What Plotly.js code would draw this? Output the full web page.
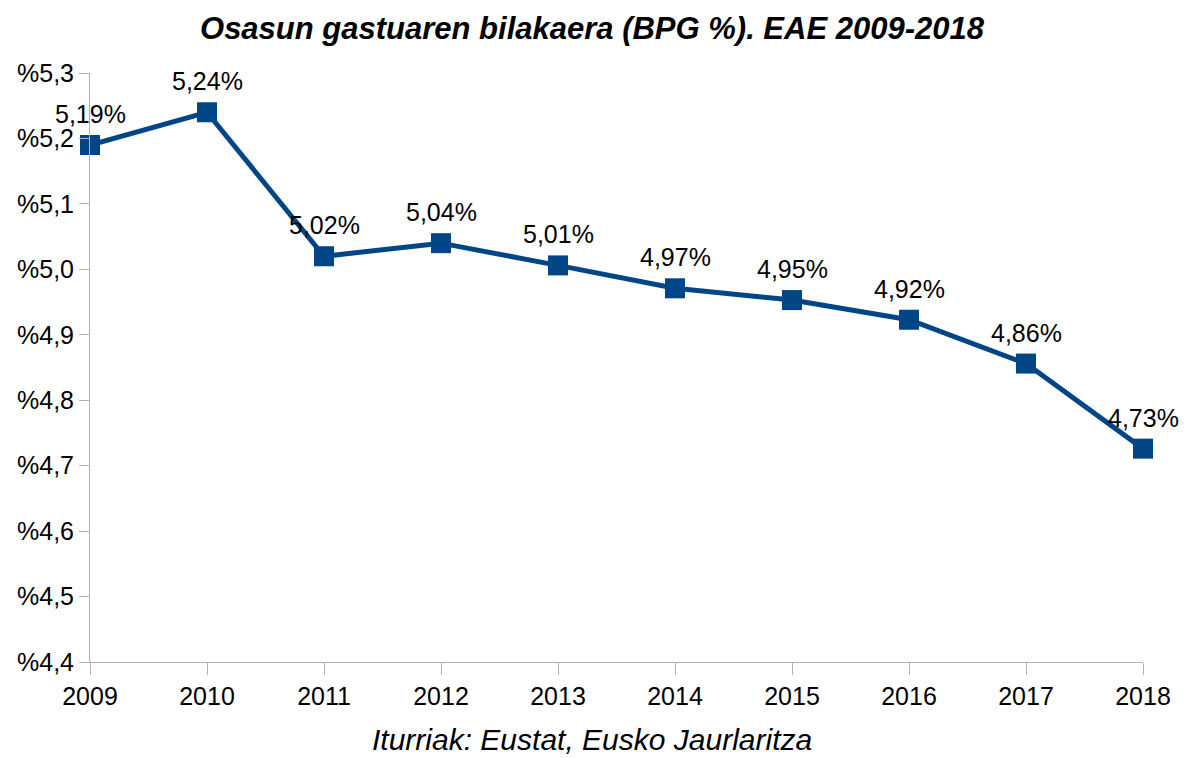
<!DOCTYPE html>
<html>
<head>
<meta charset="utf-8">
<script src="https://cdn.plot.ly/plotly-3.0.1.min.js"></script>
<style>html,body{margin:0;padding:0;background:#fff;}#chart{width:1189px;height:758px;}</style>
</head>
<body>
<div id="chart"></div>
<script>
const years = [2009, 2010, 2011, 2012, 2013, 2014, 2015, 2016, 2017, 2018];
const values = [5.19, 5.24, 5.02, 5.04, 5.006, 4.971, 4.953, 4.923, 4.856, 4.726];
const labels = ["5,19%", "5,24%", "5,02%", "5,04%", "5,01%", "4,97%", "4,95%", "4,92%", "4,86%", "4,73%"];
const yTickVals = [4.4, 4.5, 4.6, 4.7, 4.8, 4.9, 5.0, 5.1, 5.2, 5.3];
const yTickText = ["%4,4", "%4,5", "%4,6", "%4,7", "%4,8", "%4,9", "%5,0", "%5,1", "%5,2", "%5,3"];
const titleText = "Osasun gastuaren bilakaera (BPG %). EAE 2009-2018";
const sourceText = "Iturriak: Eustat, Eusko Jaurlaritza";

const FONT = "Liberation Sans, Arial, sans-serif";
const BLUE = "#004586";
const GRAY = "#b3b3b3";

const trace = {
  x: years, y: values, type: "scatter", mode: "lines+markers",
  line: {color: BLUE, width: 5},
  marker: {symbol: "square", size: 20, color: BLUE},
  cliponaxis: false, hoverinfo: "skip"
};

const annotations = years.map((yr, i) => ({
  x: yr, y: values[i], xref: "x", yref: "y", text: labels[i],
  showarrow: false, xanchor: "center", yanchor: "bottom", yshift: 15,
  font: {family: FONT, size: 25, color: "#000"}
}));
annotations.push({
  x: (592 - 90) / 1053, y: 0, xref: "paper", yref: "paper", text: "<i>" + sourceText + "</i>",
  showarrow: false, xanchor: "center", yanchor: "bottom", yshift: -96,
  font: {family: FONT, size: 30, color: "#000"}
});

const layout = {
  width: 1189, height: 758,
  margin: {l: 90, r: 46, t: 73, b: 96},
  paper_bgcolor: "#fff", plot_bgcolor: "#fff",
  showlegend: false,
  title: {text: "<b><i>" + titleText + "</i></b>", x: 592 / 1189, xref: "container", xanchor: "center",
          y: 1 - 28 / 758, yanchor: "middle", yref: "container",
          font: {family: FONT, size: 31, color: "#000"}},
  xaxis: {
    range: [2009, 2018], tickvals: years, ticktext: years.map(String),
    showgrid: false, zeroline: false, showline: true, linecolor: GRAY, linewidth: 1,
    ticks: "outside", ticklen: 12, tickcolor: GRAY, tickwidth: 1,
    tickfont: {family: FONT, size: 25, color: "#000"}, fixedrange: true
  },
  yaxis: {
    range: [4.4, 5.3], tickvals: yTickVals, ticktext: yTickText,
    showgrid: false, zeroline: false, showline: true, linecolor: GRAY, linewidth: 1,
    ticks: "outside", ticklen: 10, tickcolor: GRAY, tickwidth: 1,
    tickfont: {family: FONT, size: 25, color: "#000"}, fixedrange: true
  },
  annotations: annotations
};

Plotly.newPlot("chart", [trace], layout, {displayModeBar: false, staticPlot: true});
</script>
</body>
</html>
